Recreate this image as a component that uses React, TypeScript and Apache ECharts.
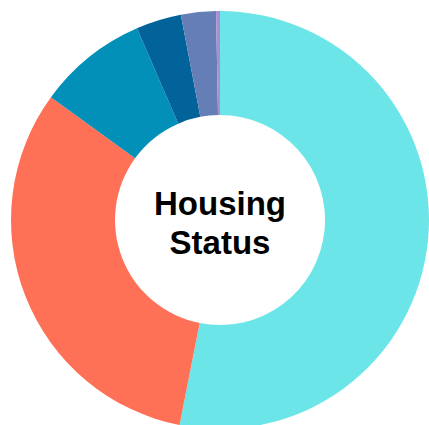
import React, { useEffect, useRef } from "react";
import * as echarts from "echarts";

const categories = ["Cyan group", "Coral group", "Teal group", "Dark blue group", "Slate blue group", "Lavender group"];
const values = [53.1, 31.9, 8.5, 3.5, 2.7, 0.3];
const colors = ["#6ce5e8", "#ff7157", "#0290b8", "#02639a", "#667eb6", "#a98fd2"];
const centerTitleLines = ["Housing", "Status"];

export default function App() {
  const ref = useRef<HTMLDivElement>(null);
  useEffect(() => {
    if (!ref.current) return;
    const chart = echarts.init(ref.current, null, { renderer: "svg" });
    chart.setOption({
      animation: false,
      backgroundColor: "#ffffff",
      series: [
        {
          type: "pie",
          center: [220, 220],
          radius: [105, 209],
          startAngle: 90,
          clockwise: true,
          label: { show: false },
          labelLine: { show: false },
          itemStyle: { borderWidth: 0 },
          emphasis: { disabled: true },
          data: categories.map((name, i) => ({
            name,
            value: values[i],
            itemStyle: { color: colors[i] },
          })),
        },
      ],
      graphic: centerTitleLines.map((line, i) => ({
        type: "text",
        x: 220,
        y: 203 + i * 39,
        style: {
          text: line,
          fill: "#000000",
          font: "bold 33px 'Liberation Sans'",
          lineHeight: 34,
          align: "center",
          verticalAlign: "middle",
        },
      })),
    });
    return () => chart.dispose();
  }, []);
  return (
    <div
      ref={ref}
      style={{ position: "fixed", left: 0, top: 0, width: 429, height: 425 }}
    />
  );
}
